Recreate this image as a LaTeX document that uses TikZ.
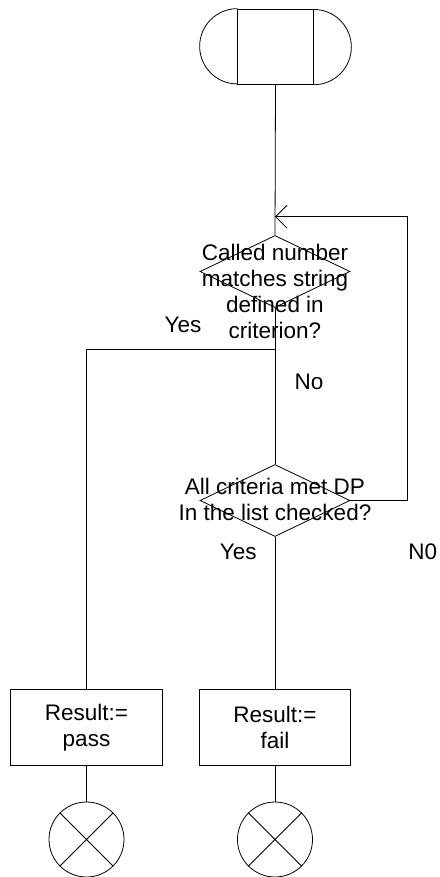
\documentclass[tikz,border=0pt]{standalone}
\usepackage{fontspec}
\setmainfont{Liberation Sans}
\usetikzlibrary{shapes.geometric,arrows.meta,positioning}

\begin{document}
\begin{tikzpicture}[x=1pt,y=-1pt,line width=0.8pt,
    font=\fontsize{22.5}{26}\selectfont,
    decision/.style={draw,shape=diamond,minimum width=150pt,minimum height=72pt,inner sep=0},
    resultbox/.style={draw,shape=rectangle,minimum width=151.5pt,minimum height=75.5pt,align=center,inner sep=0},
    endnode/.style={draw,shape=circle,minimum size=75pt,inner sep=0,
      path picture={\draw (path picture bounding box.north west) -- (path picture bounding box.south east)
                          (path picture bounding box.south west) -- (path picture bounding box.north east);}},
    txt/.style={align=center,inner sep=0},
    flowline/.style={draw},
    backarrow/.style={draw,-{Straight Barb[length=11.5pt,width=23pt]}}]
  \useasboundingbox (0,0) rectangle (439,877);
  % start terminal
  \node[draw,minimum width=75.6pt,minimum height=75.3pt,inner sep=0] (start) at (275.5,46.7) {};
  \draw (start.north west) arc[start angle=90,end angle=270,radius=37.65pt];
  \draw (start.south east) arc[start angle=-90,end angle=90,radius=37.65pt];
  % decisions
  \node[decision] (d1) at (275,271.5) {};
  \node[txt] (d1text) at (275,291) {Called number\\matches string\\defined in\\criterion?};
  \node[decision] (d2) at (275,500.5) {};
  \node[txt] (d2text) at (275,499) {All criteria met DP\\In the list checked?};
  % results
  \node[resultbox] (pass) at (86.5,727.2) {Result:=\\pass};
  \node[resultbox] (fail) at (275,727.2) {Result:=\\fail};
  \node[endnode] (endpass) at (86.5,839.5) {};
  \node[endnode] (endfail) at (275,839.5) {};
  % helper points
  \coordinate (merge) at (275,216.7);
  \coordinate (loop) at (407.5,216.7);
  \coordinate (split) at (275,349.3);
  % connectors
  \draw (start.south) -- (d1.north);
  \draw (d1.south) -- (d2.north);
  \draw (split) -| (pass.north);
  \draw (d2.south) -- (fail.north);
  \draw[backarrow] (d2.east) -| (loop) -- (merge);
  \draw (pass.south) -- (endpass.north);
  \draw (fail.south) -- (endfail.north);
  % branch labels
  \node[txt] (yes1) at (183,325) {Yes};
  \node[txt] (no1) at (309,382) {No};
  \node[txt] (yes2) at (238.3,551.7) {Yes};
  \node[txt] (no2) at (422.7,551.7) {N0};
\end{tikzpicture}
\end{document}
